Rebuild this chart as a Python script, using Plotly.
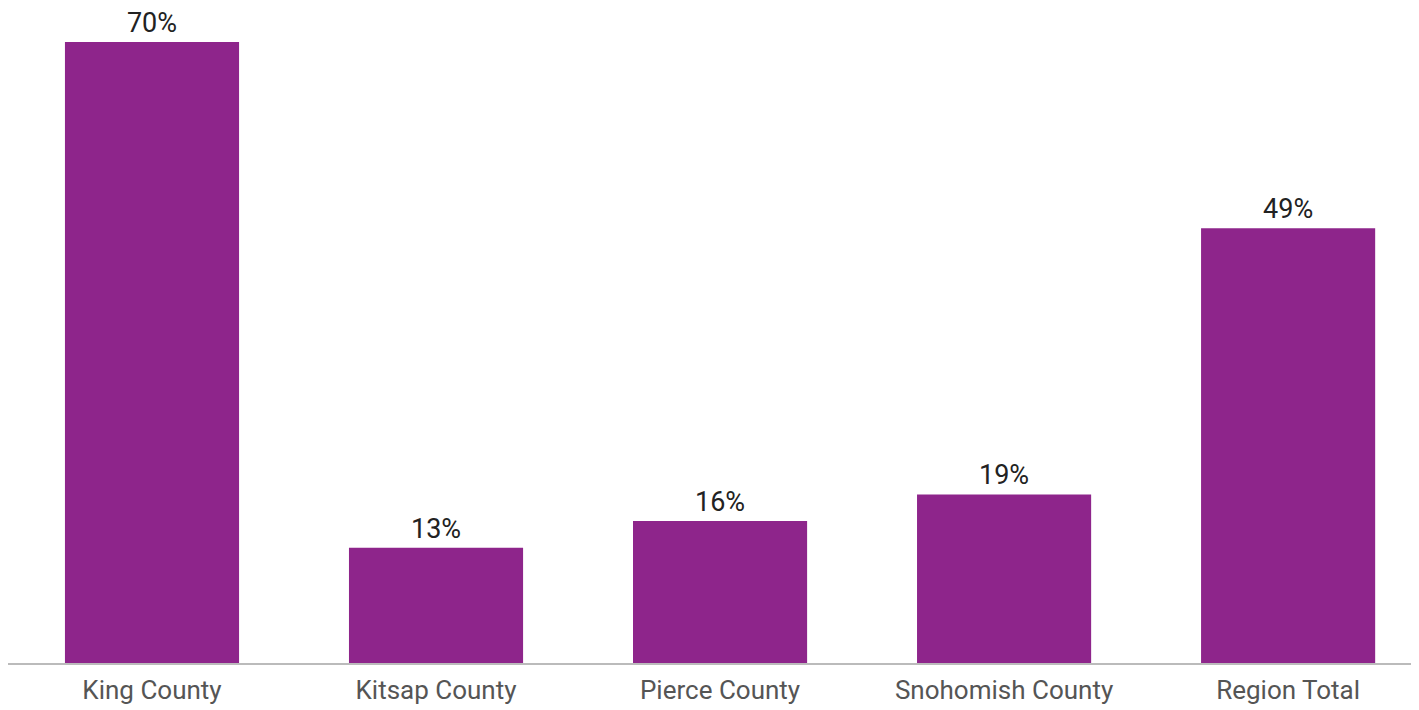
import plotly.graph_objects as go

categories = ["King County", "Kitsap County", "Pierce County", "Snohomish County", "Region Total"]
values = [70, 13, 16, 19, 49]
labels = ["70%", "13%", "16%", "19%", "49%"]

fig = go.Figure(go.Bar(
    x=list(range(len(categories))),
    y=values,
    text=labels,
    textposition="outside",
    textfont=dict(family="Roboto", size=27, color="#222222"),
    marker=dict(color="#8E258B", line=dict(width=0)),
    width=0.613,
    cliponaxis=False,
))

fig.update_layout(
    width=1419, height=710,
    margin=dict(l=0, r=0, t=34, b=55),
    paper_bgcolor="white", plot_bgcolor="white",
    showlegend=False,
    font=dict(family="Roboto"),
)
fig.update_xaxes(
    range=[-0.507, 4.489],
    tickvals=list(range(len(categories))),
    ticktext=categories,
    tickfont=dict(family="Roboto", size=26, color="#555555"),
    ticklabelstandoff=3,
    showline=True, linecolor="#BBBBBB", linewidth=1.5,
    showgrid=False, ticks="", zeroline=False,
)
fig.update_yaxes(range=[0, 70], visible=False, showgrid=False, zeroline=False)

fig.write_html("out.html")
